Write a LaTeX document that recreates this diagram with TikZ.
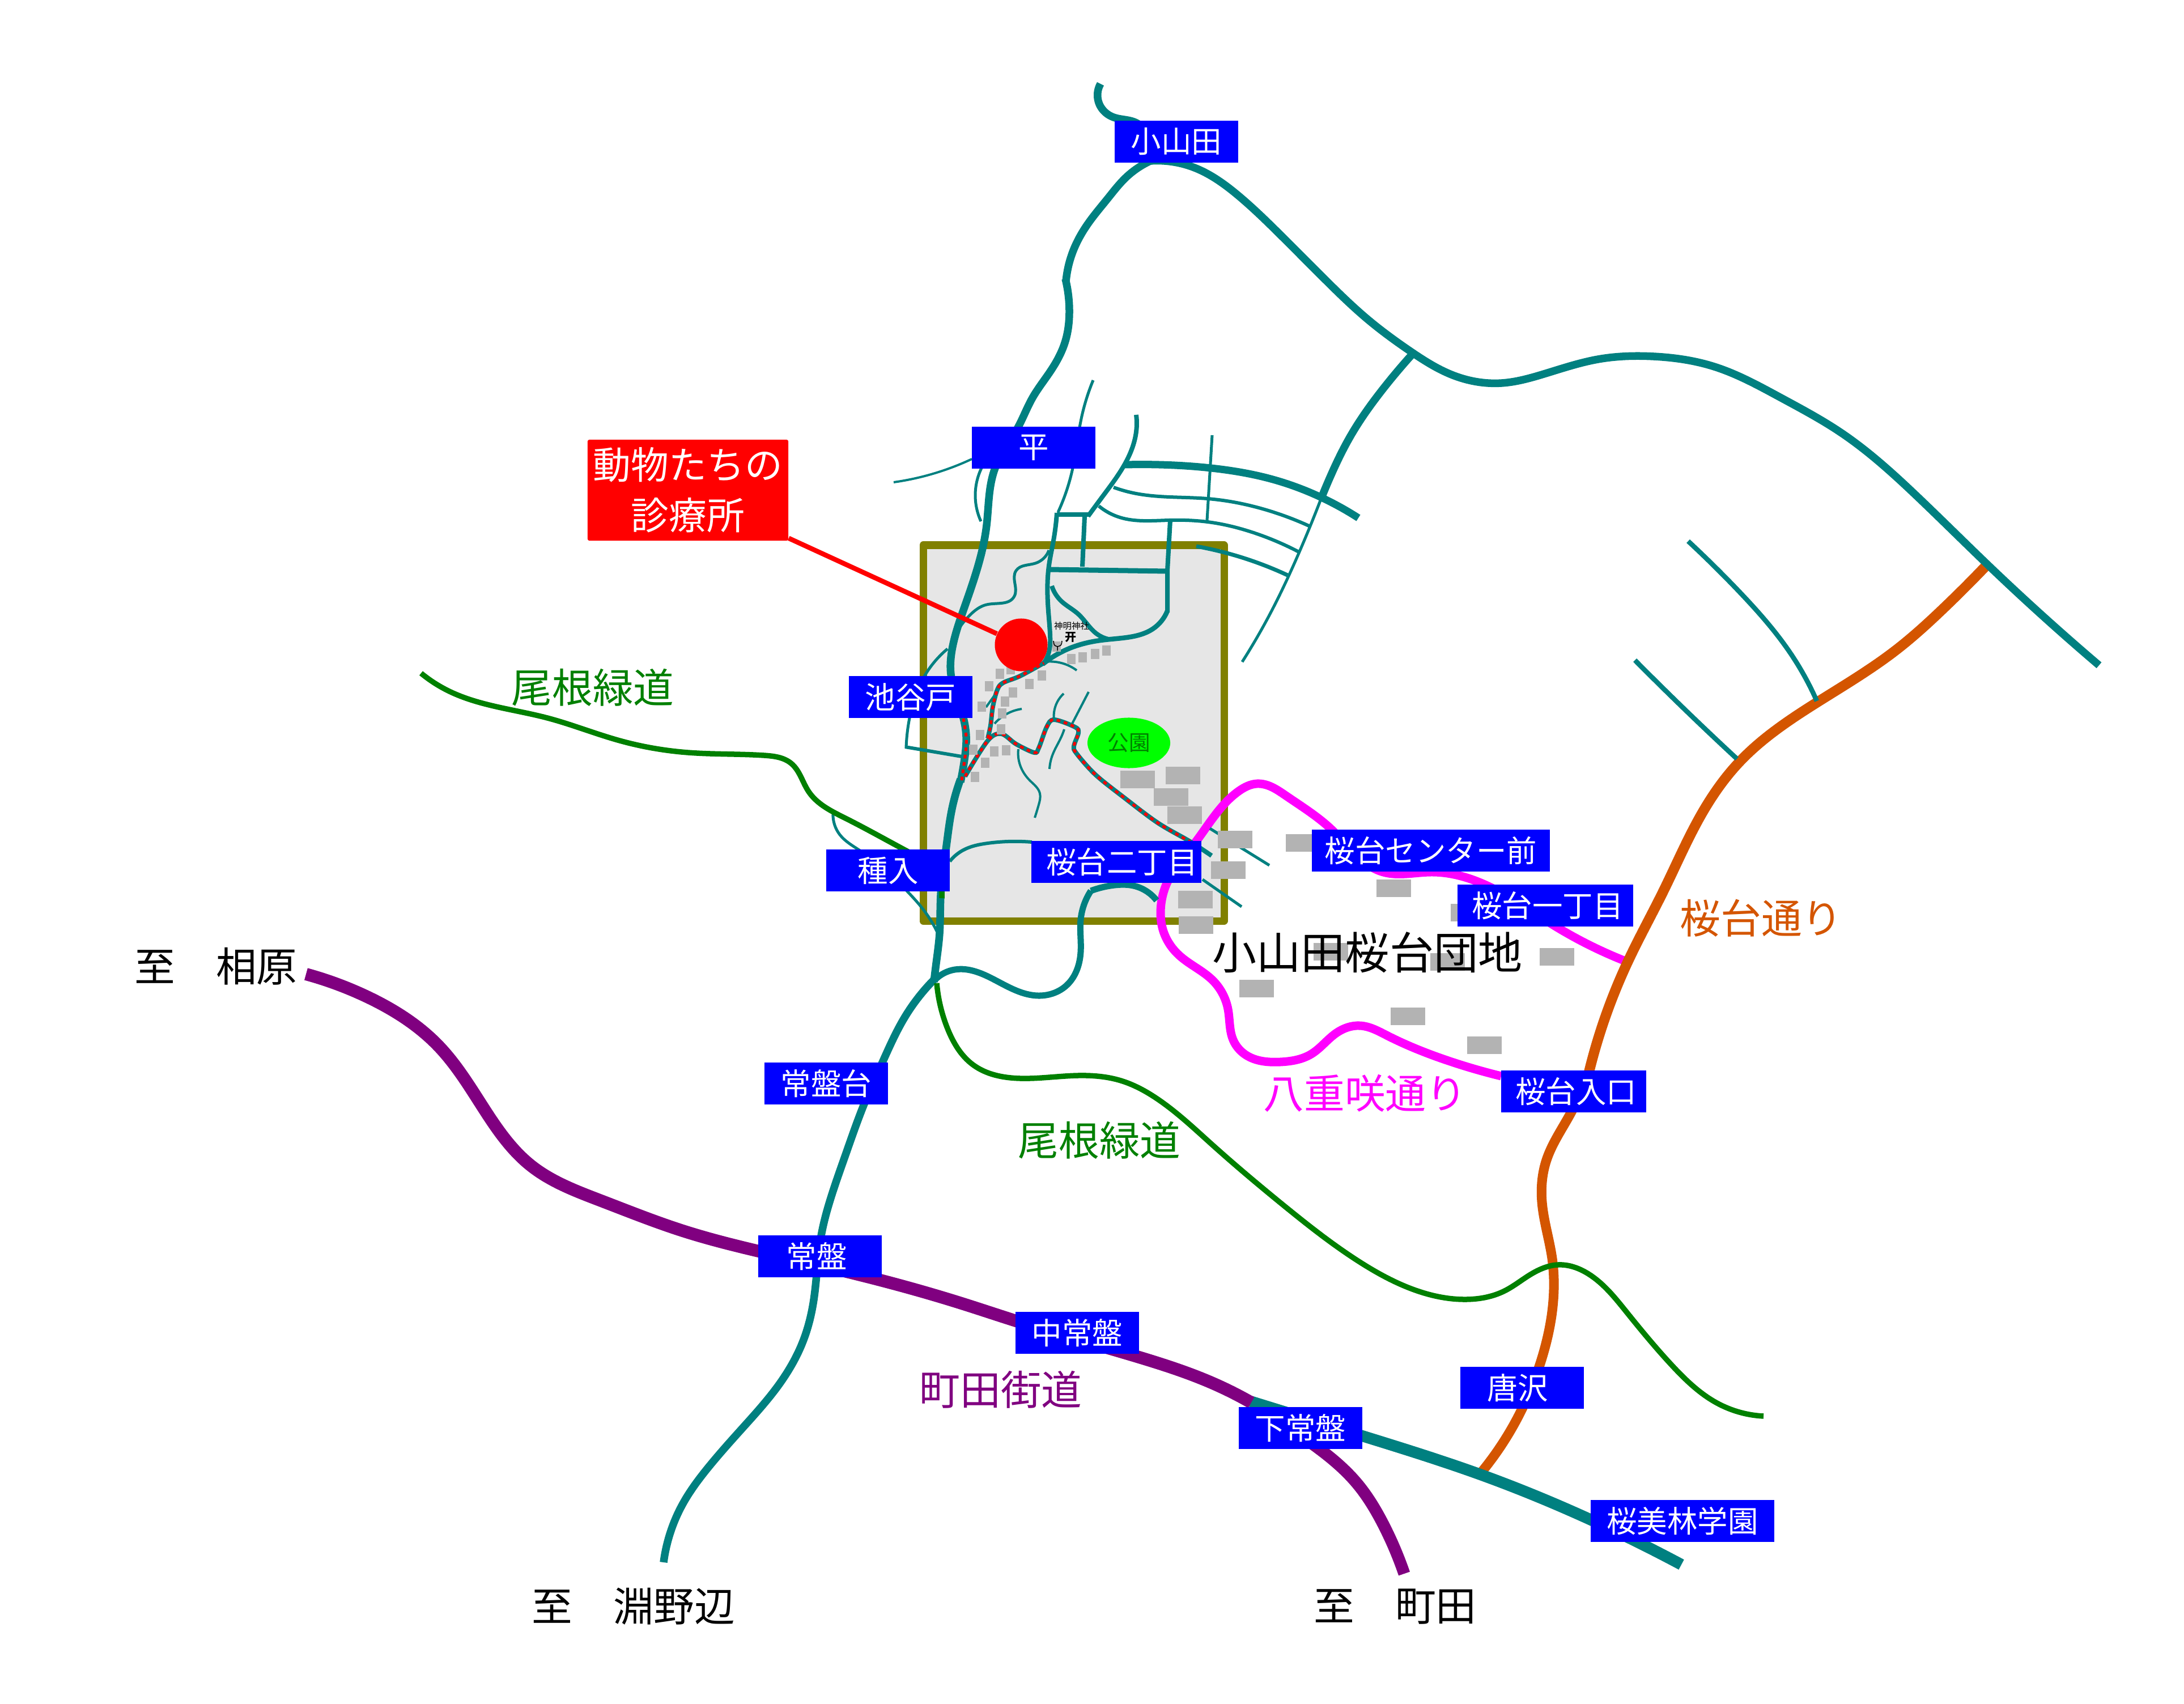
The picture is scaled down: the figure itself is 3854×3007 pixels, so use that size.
\documentclass[tikz,border=0pt]{standalone}
\usepackage{fontspec}
\setmainfont{Noto Sans CJK JP}
\usetikzlibrary{positioning, shapes.geometric, hobby}
\definecolor{roadteal}{HTML}{008080}
\definecolor{kaidou}{HTML}{800080}
\definecolor{ryokudou}{HTML}{008000}
\definecolor{olivebox}{HTML}{808000}
\definecolor{dorian}{HTML}{D45500}
\definecolor{yaezakipink}{HTML}{FF00FF}
\definecolor{parkgreen}{HTML}{00FF00}
\definecolor{stopblue}{HTML}{0000FF}
\definecolor{clinicred}{HTML}{FF0000}
\definecolor{blockgray}{HTML}{B3B3B3}
\definecolor{areagray}{HTML}{E6E6E6}
\tikzset{
road/.style = { draw = roadteal, line width = #1 },
road/.default = 0.05cm,
walk/.style = { draw = clinicred, line width = 0.05cm, dash pattern = on 0.065cm off 0.065cm },
midori/.style = { draw = ryokudou, line width = 0.095cm },
stop/.style = { rectangle, fill = stopblue, text = white, inner sep = 0pt, minimum height = 0.73cm, minimum width = #1, font = \fontsize{15.2}{18}\selectfont },
stop/.default = 2.18cm,
place/.style = { inner sep = 0pt, font = \fontsize{20.4}{24}\selectfont },
block/.style = { fill = blockgray },
every plot/.style = { hobby },
}
\begin{document}
\begin{tikzpicture}[x=0.01cm, y=-0.01cm]
      \useasboundingbox (0,0) rectangle (3854,3007);
      % danchi frame
      \draw[draw=olivebox, fill=areagray, line width=0.13cm, line join=round] (1629,962) rectangle (2160,1625);
      % yaezaki, sakuradai
      \draw[draw=yaezakipink, line width=0.15cm] plot coordinates {(2868,1696) (2747,1636) (2620,1561) (2524,1539) (2441,1539) (2352,1466) (2269,1404) (2218,1383) (2186,1396) (2109,1487) (2058,1561) (2049,1595) (2055,1649) (2081,1686) (2141,1731) (2167,1781) (2176,1835) (2199,1862) (2259,1874) (2314,1860) (2358,1823) (2400,1810) (2447,1827) (2556,1872) (2649,1899)};
      \draw[draw=dorian, line width=0.18cm] plot coordinates {(3507,996) (3427,1076) (3346,1147) (3204,1241) (3070,1344) (3007,1429) (2936,1571) (2873,1696) (2802,1900)};
      \draw[draw=dorian, line width=0.17cm] plot coordinates {(2790,1925) (2773,1962) (2729,2047) (2721,2121) (2739,2221) (2742,2275) (2716,2412) (2686,2486) (2615,2597)};
      % main roads
      \begin{scope}[every path/.style={road=0.135cm}]
        \draw plot coordinates {(1942,148) (1940,184) (1965,207) (2001,215) (2030,250)};
        \draw plot coordinates {(2030,284) (1986,314) (1955,350) (1919,396) (1894,442) (1881,497)};
        \draw plot coordinates {(1880,492) (1887,549) (1879,605) (1853,656) (1822,702) (1797,753) (1756,826) (1741,927) (1701,1074) (1681,1141) (1678,1190) (1700,1267) (1705,1300) (1702,1340) (1695,1380)};
        \draw plot coordinates {(1695,1375) (1680,1427) (1670,1493) (1660,1580) (1658,1647) (1652,1700) (1648,1733)};
        \draw plot coordinates {(1652,1725) (1596,1796) (1557,1875) (1525,1948) (1492,2038) (1463,2124) (1449,2181) (1435,2300) (1417,2367) (1377,2440) (1313,2517) (1247,2593) (1207,2650) (1171,2757)};
        \draw plot coordinates {(2030,284) (2108,296) (2185,345) (2261,416) (2338,493) (2414,564) (2489,620) (2561,661) (2650,676) (2721,661) (2820,634) (2918,629) (3025,647) (3141,701) (3248,763) (3382,875) (3507,996) (3704,1174)};
        \draw plot coordinates {(2495,622) (2440,687) (2384,768) (2348,840) (2332,878)};
      \end{scope}
      % side roads
      \draw[road=0.05cm] plot coordinates {(2335,870) (2292,976) (2246,1074) (2192,1168)};
      \draw[road=0.13cm] plot coordinates {(1985,820) (2045,820) (2137,826) (2246,846) (2332,878) (2397,914)};
      \draw[road=0.05cm] (2139,768) -- (2130,918);
      \draw[road=0.06cm] plot coordinates {(1965,860) (2005,871) (2131,880) (2235,900) (2312,929)};
      \draw[road=0.06cm] plot coordinates {(1939,893) (1976,913) (2063,918) (2131,921) (2212,940) (2292,974)};
      \draw[road=0.07cm] plot coordinates {(2111,964) (2189,983) (2272,1015)};
      \draw[road=0.08cm] plot coordinates {(2005,732) (2005,762) (1982,824) (1948,873) (1920,911)};
      \draw[road=0.08cm, line join=miter] (1924,908) -- (1865,908);
      \draw[road=0.08cm] plot coordinates {(1865,905) (1859,954) (1851,998) (1850,1079) (1853,1119) (1850,1154) (1842,1170)};
      \draw[road=0.08cm] (1914,911) -- (1910,1000);
      \draw[road=0.09cm] (1851,1005) -- (2060,1008);
      \draw[road=0.08cm] (2065,918) -- (2060,1007) -- (2060,1081);
      \draw[road=0.085cm] plot coordinates {(2060,1078) (2034,1110) (1988,1125) (1942,1130) (1890,1143) (1840,1172)};
      \draw[road=0.08cm] plot coordinates {(1856,1034) (1873,1061) (1902,1083) (1936,1119) (1956,1128)};
      \draw[road=0.04cm] plot coordinates {(1577,851) (1632,840) (1715,810)};
      \draw[road=0.05cm] plot coordinates {(1732,826) (1721,873) (1731,920)};
      \draw[road=0.05cm] plot coordinates {(1929,671) (1908,739) (1893,826) (1867,904)};
      \draw[road=0.05cm] plot coordinates {(1851,971) (1827,994) (1793,1007) (1790,1052) (1741,1067) (1712,1085) (1689,1114)};
      \draw[road=0.05cm] plot coordinates {(1672,1145) (1632,1192) (1605,1267) (1599,1320)};
      \draw[road=0.06cm] (1597,1318) -- (1697,1335);
      \draw[road=0.05cm] plot coordinates {(1470,1435) (1482,1473) (1516,1500) (1602,1574) (1633,1610) (1654,1645)};
      \draw[road=0.06cm] plot coordinates {(1676,1520) (1700,1500) (1743,1488) (1821,1486)};
      \draw[road=0.11cm] plot coordinates {(1650,1729) (1685,1711) (1755,1729) (1832,1757) (1883,1738) (1907,1680) (1907,1623) (1925,1572)};
      \draw[road=0.11cm] plot coordinates {(1925,1572) (1967,1562) (2000,1563) (2041,1589)};
      \draw[road=0.05cm] (2135,1462) -- (2240,1527);
      \draw[road=0.05cm] (2122,1552) -- (2191,1600);
      \draw[road=0.085cm] plot coordinates {(2979,955) (3070,1045) (3159,1152) (3206,1237)};
      \draw[road=0.085cm] plot coordinates {(2885,1165) (2971,1250) (3065,1339)};
      \draw[road=0.2cm] plot coordinates {(2207,2473) (2401,2533) (2615,2603) (2803,2680) (2967,2761)};
      % thin paths in the frame
      \draw[road=0.04cm] plot coordinates {(1844,1168) (1873,1170) (1900,1183)};
      \draw[road=0.04cm] (1740,1248) -- (1755,1227);
      \draw[road=0.04cm] plot coordinates {(1755,1277) (1780,1258) (1803,1251)};
      \draw[road=0.04cm] plot coordinates {(1797,1322) (1800,1350) (1817,1377) (1835,1400) (1833,1420) (1826,1443)};
      \draw[road=0.04cm] plot coordinates {(1877,1224) (1860,1257) (1860,1270)};
      \draw[road=0.04cm] (1921,1221) -- (1892,1277);
      \draw[road=0.04cm] plot coordinates {(1878,1287) (1873,1300) (1857,1333) (1852,1357)};
      % way to the clinic
      \begin{scope}[every plot/.style={smooth, tension=0.55}]
        \draw[road=0.08cm] plot coordinates {(1703,1370) (1743,1307) (1767,1295) (1793,1313) (1825,1328) (1833,1320) (1847,1283) (1860,1270) (1897,1283) (1903,1293) (1895,1317) (1900,1330) (1933,1367) (1983,1407) (2043,1452) (2100,1485) (2138,1510)};
        \draw[road=0.08cm] plot coordinates {(1743,1303) (1748,1280) (1752,1247) (1760,1217) (1770,1205) (1800,1193) (1842,1170)};
        \draw[walk] plot coordinates {(1697,1377) (1704,1327) (1705,1300) (1700,1268)};
        \draw[walk] plot coordinates {(1703,1370) (1743,1307) (1767,1295) (1793,1313) (1825,1328) (1833,1320) (1847,1283) (1860,1270) (1897,1283) (1903,1293) (1895,1317) (1900,1330) (1933,1367) (1983,1407) (2043,1452) (2100,1485)};
        \draw[walk] plot coordinates {(1743,1303) (1748,1280) (1752,1247) (1760,1217) (1770,1205) (1800,1193) (1842,1170)};
      \end{scope}
      % greenways, kaido
      \draw[midori] plot coordinates {(743,1188) (793,1220) (966,1267) (1090,1306) (1214,1328) (1348,1333) (1396,1347) (1427,1397) (1492,1444) (1597,1500) (1650,1540) (1662,1585)};
      \draw[midori] plot coordinates {(1653,1735) (1672,1815) (1717,1879) (1800,1903) (1902,1898) (1978,1907) (2042,1939) (2138,2019) (2265,2127) (2401,2228) (2501,2278) (2588,2293) (2655,2278) (2696,2252) (2749,2232) (2803,2248) (2870,2315) (2950,2409) (3030,2476) (3112,2499)};
      \draw[draw=kaidou, line width=0.22cm] plot coordinates {(540,1719) (650,1760) (774,1846) (851,1952) (937,2057) (1061,2119) (1205,2172) (1339,2208) (1473,2239) (1700,2301) (1793,2331) (2010,2395) (2138,2440) (2208,2475)};
      \draw[draw=kaidou, line width=0.21cm] plot coordinates {(2290,2530) (2327,2556) (2394,2617) (2441,2690) (2478,2777)};
      % houses
      \foreach \x/\y in {1757/1180, 1776/1172, 1831/1183, 1809/1198, 1738/1202, 1780/1213, 1766/1229, 1725/1238, 1761/1250, 1759/1278, 1722/1288, 1710/1314, 1747/1317, 1768/1315, 1731/1337, 1713/1362, 1883/1154, 1903/1151, 1925/1145, 1945/1139, 1857/1132} {
        \fill[block] (\x,\y) rectangle ++(15,18);
      }
      \foreach \x/\y in {1977/1360, 2057/1353, 2036/1391, 2060/1423, 2149/1466, 2269/1472, 2137/1520, 2079/1572, 2080/1617, 2429/1552, 2560/1595, 2318/1664, 2524/1682, 2717/1673, 2187/1729, 2454/1778, 2589/1829} {
        \fill[block] (\x,\y) rectangle ++(61,31);
      }
      % shrine, park, clinic
      \node[inner sep=0pt, font=\fontsize{4.4}{5}\selectfont] (shinmei) at (1891,1105) {神明神社};
      \node[inner sep=0pt, font=\fontsize{5.7}{6}\bfseries\selectfont] (torii) at (1889,1124) {开};
      \draw[line width=0.015cm] (1859,1131) .. controls (1860,1139) .. (1866,1141) .. controls (1873,1139) .. (1874,1131) (1866,1141) -- (1866,1148);
      \node[ellipse, fill=parkgreen, minimum width=1.46cm, minimum height=0.89cm, inner sep=0pt, text=ryokudou, font=\fontsize{10.7}{12}\selectfont] (park) at (1992,1311) {公園};
      \node[circle, fill=clinicred, minimum size=0.93cm, inner sep=0pt] (spot) at (1802,1138) {};
      \node[rectangle, rounded corners=0.03cm, fill=clinicred, text=white, inner sep=0pt, minimum width=3.54cm, minimum height=1.78cm, align=center, font=\fontsize{19}{25.3}\selectfont] (clinic) at (1214,865) {動物たちの\\診療所};
      \draw[draw=clinicred, line width=0.085cm] (clinic.south east) ++(0,-5) -- (spot);
      % stops
      \begin{scope}
        \node[stop] (koyamada) at (2076,250) {小山田};
        \node[stop] (taira) at (1824,790) {平};
        \node[stop] (iketani) at (1607,1230) {池谷戸};
        \node[stop] (taneiri) at (1567,1536) {種入};
        \node[stop=2.99cm] (nichome) at (1970,1521) {\hspace*{0.2cm}桜台二丁目};
        \node[stop=4.2cm] (center) at (2525,1501) {桜台センター前};
        \node[stop=3.1cm] (itchome) at (2727,1598) {\hspace*{0.08cm}桜台一丁目};
        \node[stop=2.56cm] (iriguchi) at (2777,1926) {\hspace*{0.08cm}桜台入口};
        \node[stop] (tokiwadai) at (1458,1912) {常盤台};
        \node[stop] (tokiwa) at (1447,2217) {常盤\hspace*{0.12cm}};
        \node[stop] (nakatokiwa) at (1901,2352) {中常盤};
        \node[stop] (shimotokiwa) at (2295,2520) {下常盤};
        \node[stop] (karasawa) at (2686,2449) {唐沢\hspace*{0.16cm}};
        \node[stop=3.24cm] (oberlin) at (2969,2684) {桜美林学園};
      \end{scope}
      % road names
      \node[place, text=ryokudou] (oneup) at (1046,1213) {尾根緑道};
      \node[place, text=ryokudou] (onedown) at (1940,2012) {尾根緑道};
      \node[place, text=kaidou] (machidakaido) at (1766,2452) {町田街道};
      \node[place, text=yaezakipink] (yaezaki) at (2409,1929) {八重咲通り};
      \node[place, text=dorian] (sakuradori) at (3108,1620) {桜台通り};
      \node[place, font=\fontsize{22.2}{26}\selectfont] (danchi) at (2413,1681) {小山田桜台団地};
      \node[place] (toaihara) at (381,1705) {至　相原};
      \node[place] (tofuchinobe) at (1118,2835) {至　淵野辺};
      \node[place] (tomachida) at (2462,2835) {至　町田};
\end{tikzpicture}
\end{document}
